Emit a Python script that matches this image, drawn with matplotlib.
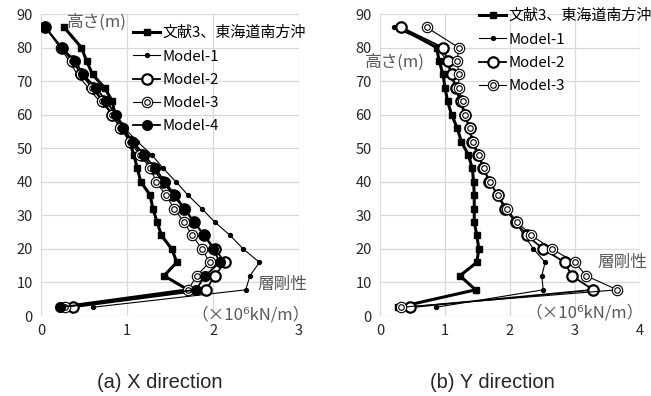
import matplotlib
matplotlib.use("Agg")
import matplotlib.pyplot as plt
import numpy as np

# ============================================================
# STORY STIFFNESS PROFILES (X / Y DIRECTION)
# ============================================================

plt.rcParams["font.family"] = ["Noto Sans CJK JP", "DejaVu Sans"]

heights = [86, 80, 76, 72, 68, 64, 60, 56, 52, 48, 44,
           40, 36, 32, 28, 24, 20, 16, 12, 7.8, 2.6]

labels = ["文献3、東海道南方沖", "Model-1", "Model-2", "Model-3", "Model-4"]

# X direction (x10^6 kN/m)
x_ref = [0.27, 0.47, 0.53, 0.60, 0.74, 0.83, 0.86, 0.97, 1.03, 1.08, 1.12,
         1.16, 1.27, 1.30, 1.35, 1.40, 1.52, 1.58, 1.43, 1.71, 0.22]
x_m1 = [0.05, 0.22, 0.33, 0.42, 0.55, 0.68, 0.84, 0.97, 1.12, 1.29, 1.42,
        1.57, 1.71, 1.87, 2.02, 2.20, 2.35, 2.54, 2.43, 2.38, 0.60]
x_m2 = [0.05, 0.24, 0.37, 0.47, 0.61, 0.72, 0.83, 0.93, 1.05, 1.17, 1.30,
        1.42, 1.54, 1.66, 1.78, 1.90, 2.02, 2.14, 2.02, 1.92, 0.37]
x_m3 = [0.05, 0.23, 0.36, 0.47, 0.59, 0.71, 0.82, 0.92, 1.03, 1.15, 1.27,
        1.34, 1.45, 1.55, 1.66, 1.76, 1.87, 1.96, 1.81, 1.71, 0.28]
x_m4 = [0.05, 0.24, 0.40, 0.49, 0.64, 0.76, 0.87, 0.95, 1.07, 1.20, 1.33,
        1.44, 1.56, 1.67, 1.78, 1.90, 2.00, 2.08, 1.91, 1.80, 0.22]

# Y direction (x10^6 kN/m)
y_ref = [0.31, 0.87, 0.91, 0.97, 1.00, 1.04, 1.10, 1.19, 1.25, 1.36, 1.42,
         1.44, 1.45, 1.45, 1.45, 1.49, 1.52, 1.49, 1.23, 1.47, 0.28]
y_m1 = [0.22, 0.90, 1.02, 1.09, 1.15, 1.23, 1.29, 1.37, 1.42, 1.52, 1.60,
        1.69, 1.82, 1.94, 2.08, 2.22, 2.36, 2.54, 2.49, 2.51, 0.86]
y_m2 = [0.33, 0.97, 1.04, 1.11, 1.17, 1.25, 1.30, 1.38, 1.41, 1.51, 1.59,
        1.68, 1.81, 1.92, 2.09, 2.26, 2.51, 2.84, 2.95, 3.28, 0.46]
y_m3 = [0.72, 1.21, 1.19, 1.21, 1.21, 1.27, 1.31, 1.39, 1.43, 1.53, 1.60,
        1.69, 1.82, 1.95, 2.11, 2.33, 2.64, 3.00, 3.17, 3.65, 0.32]

GRID = "#d9d9d9"
TXT = "#595959"


def draw_series(ax, ref, m1, m2, m3, m4=None):
    handles = []
    h, = ax.plot(ref, heights, color="black", lw=2.2, marker="s",
                 ms=5, zorder=3)
    handles.append(h)
    h, = ax.plot(m1, heights, color="black", lw=0.8, marker="o",
                 ms=2.8, zorder=4)
    handles.append(h)
    h, = ax.plot(m2, heights, color="black", lw=1.3, marker="o", ms=7.5,
                 mfc="white", mew=1.6, zorder=5)
    handles.append(h)
    # double-circle marker: outer ring plus inner ring
    outer, = ax.plot(m3, heights, color="black", lw=0.8, marker="o", ms=7.5,
                     mfc="white", mew=0.8, zorder=6)
    inner, = ax.plot(m3, heights, color="black", lw=0, marker="o", ms=4,
                     mfc="white", mew=0.8, zorder=6)
    handles.append((outer, inner))
    if m4 is not None:
        h, = ax.plot(m4, heights, color="black", lw=1.3, marker="o",
                     ms=7, zorder=7)
        handles.append(h)
    return handles


def style_axes(ax, xmax):
    ax.set_xlim(0, xmax)
    ax.set_ylim(0, 90)
    ax.set_xticks(np.arange(0, xmax + 1, 1))
    ax.set_yticks(np.arange(0, 91, 10))
    ax.grid(True, color=GRID, lw=0.9)
    ax.set_axisbelow(True)
    for s in ax.spines.values():
        s.set_visible(False)
    ax.tick_params(length=0, labelsize=10.5, colors="#262626", pad=6)


fig = plt.figure(figsize=(6.51, 3.96), dpi=100)

ax1 = fig.add_axes([41 / 651, 80 / 396, 258 / 651, 302 / 396])
ax2 = fig.add_axes([380 / 651, 80 / 396, 260 / 651, 302 / 396])

for ax, xmax in [(ax1, 3), (ax2, 4)]:
    style_axes(ax, xmax)

h1 = draw_series(ax1, x_ref, x_m1, x_m2, x_m3, x_m4)
h2 = draw_series(ax2, y_ref, y_m1, y_m2, y_m3)

leg_kw = dict(frameon=False, fontsize=10.8, handlelength=1.8,
              handletextpad=0.15, labelspacing=0.62, borderaxespad=0,
              borderpad=0)
ax1.legend(h1, labels, loc="upper left",
           bbox_to_anchor=(133 / 651, 1 - 26 / 396),
           bbox_transform=fig.transFigure, **leg_kw)
ax2.legend(h2, labels[:4], loc="upper left",
           bbox_to_anchor=(479 / 651, 1 - 9 / 396),
           bbox_transform=fig.transFigure, **leg_kw)

# axis captions inside the plot area
ANN = 12
fig.text(67 / 651, 1 - 22 / 396, "高さ(m)", fontsize=ANN, color=TXT,
         va="center", ha="left")
fig.text(257 / 651, 1 - 284 / 396, "層剛性", fontsize=ANN, color=TXT,
         va="center", ha="left")
fig.text(310 / 651, 1 - 315 / 396, "（×10⁶kN/m）", fontsize=ANN,
         color=TXT, va="center", ha="right")

fig.text(365 / 651, 1 - 62 / 396, "高さ(m)", fontsize=ANN, color=TXT,
         va="center", ha="left")
fig.text(597 / 651, 1 - 262 / 396, "層剛性", fontsize=ANN, color=TXT,
         va="center", ha="left")
fig.text(644 / 651, 1 - 313 / 396, "（×10⁶kN/m）", fontsize=ANN,
         color=TXT, va="center", ha="right")

fig.text(160 / 651, 1 - 382 / 396, "(a) X direction", fontsize=14.5,
         family="Liberation Sans", color="#262626", ha="center",
         va="center")
fig.text(492 / 651, 1 - 382 / 396, "(b) Y direction", fontsize=14.5,
         family="Liberation Sans", color="#262626", ha="center",
         va="center")

fig.savefig("out.png", dpi=100)
